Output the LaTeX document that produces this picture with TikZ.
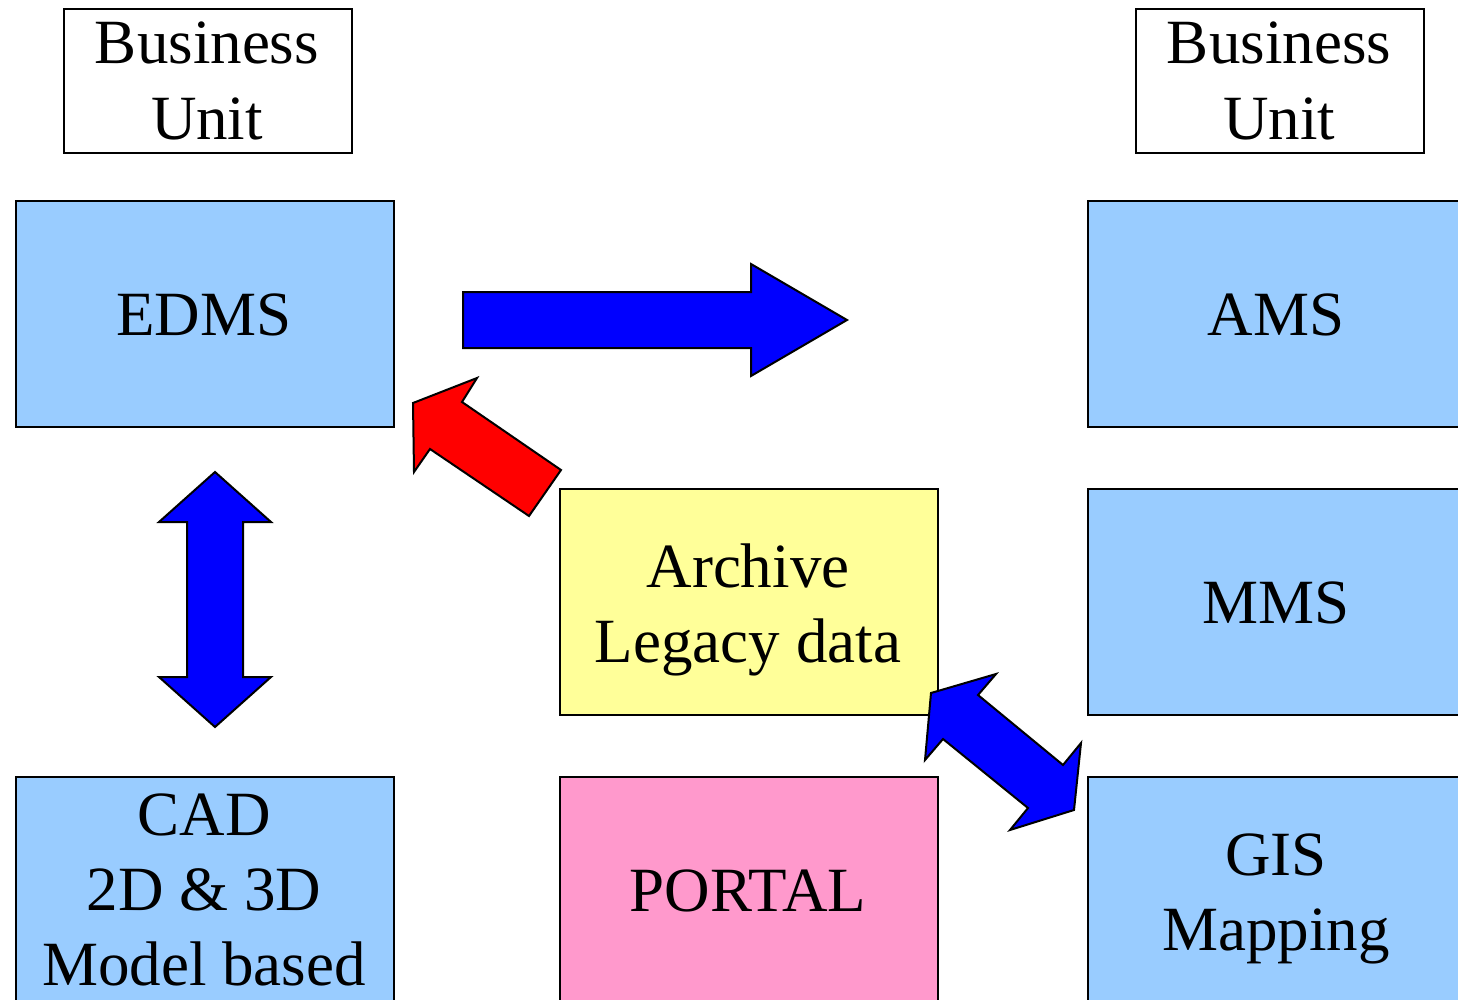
\documentclass[tikz,border=0pt]{standalone}
\usepackage{fontspec}
\setmainfont{Liberation Serif}
\definecolor{boxblue}{HTML}{99CCFF}
\definecolor{boxyellow}{HTML}{FFFF99}
\definecolor{boxpink}{HTML}{FF99CC}
\definecolor{arrblue}{HTML}{0000FF}
\definecolor{arrred}{HTML}{FF0000}
\begin{document}
\begin{tikzpicture}[x=1pt,y=-1pt,
  box/.style={draw=black, line width=2pt, minimum width=378pt, minimum height=226pt, inner sep=0pt, anchor=north west},
  bubox/.style={draw=black, line width=1.8pt, minimum width=288pt, minimum height=144pt, inner sep=0pt, anchor=north west, fill=white},
  txt/.style={anchor=base, inner sep=0pt, font=\fontsize{63}{76}\selectfont},
  blockarrow/.style={draw=black, line width=2pt, line join=miter}]
\useasboundingbox (0,0) rectangle (1458,1000);
\clip (0,0) rectangle (1458,1000);
\fill[white] (0,0) rectangle (1458,1000);

% Business unit boxes
\node[bubox] (bu1) at (63,8) {};
\node[bubox] (bu2) at (1135,8) {};
\node[txt] (bu1a) at (207,64) {Business};
\node[txt] (bu1b) at (207,140) {Unit};
\node[txt] (bu2a) at (1279,64) {Business};
\node[txt] (bu2b) at (1279,140) {Unit};

% main boxes
\node[box, fill=boxblue] (edms) at (15,200) {};
\node[box, fill=boxblue] (ams) at (1087,200) {};
\node[box, fill=boxblue] (mms) at (1087,488) {};
\node[box, fill=boxyellow] (arch) at (559,488) {};
\node[box, fill=boxblue] (cad) at (15,776) {};
\node[box, fill=boxpink] (portal) at (559,776) {};
\node[box, fill=boxblue] (gis) at (1087,776) {};

\node[txt] (edmsT) at (204,335) {EDMS};
\node[txt] (amsT) at (1276,335) {AMS};
\node[txt] (mmsT) at (1276,623) {MMS};
\node[txt] (archT1) at (748,587) {Archive};
\node[txt] (archT2) at (748,662) {Legacy data};
\node[txt] (portalT) at (748,911) {PORTAL};
\node[txt] (cadT1) at (204,835) {CAD};
\node[txt] (cadT2) at (204,910) {2D \& 3D};
\node[txt] (cadT3) at (204,985) {Model based};
\node[txt] (gisT1) at (1276,875) {GIS};
\node[txt] (gisT2) at (1276,950) {Mapping};

% right block arrow (EDMS -> AMS)
\draw[blockarrow, fill=arrblue] (463,292) -- (751,292) -- (751,264) -- (847,320)
  -- (751,376) -- (751,348) -- (463,348) -- cycle;

% red block arrow (Archive -> EDMS)
\draw[blockarrow, fill=arrred] (413,403) -- (477,378) -- (462,402) -- (561,470)
  -- (529,516) -- (430,449) -- (414,472) -- cycle;

% vertical double block arrow (EDMS <-> CAD)
\draw[blockarrow, fill=arrblue] (215,472) -- (271,522) -- (243,522) -- (243,677)
  -- (271,677) -- (215,727) -- (159,677) -- (187,677) -- (187,522) -- (159,522) -- cycle;

% diagonal double block arrow (Archive <-> GIS)
\draw[blockarrow, fill=arrblue] (931,693) -- (996,674) -- (978,695) -- (1063,765)
  -- (1081,743) -- (1074,810) -- (1010,830) -- (1028,808) -- (943,739)
  -- (925,760) -- cycle;
\end{tikzpicture}
\end{document}
